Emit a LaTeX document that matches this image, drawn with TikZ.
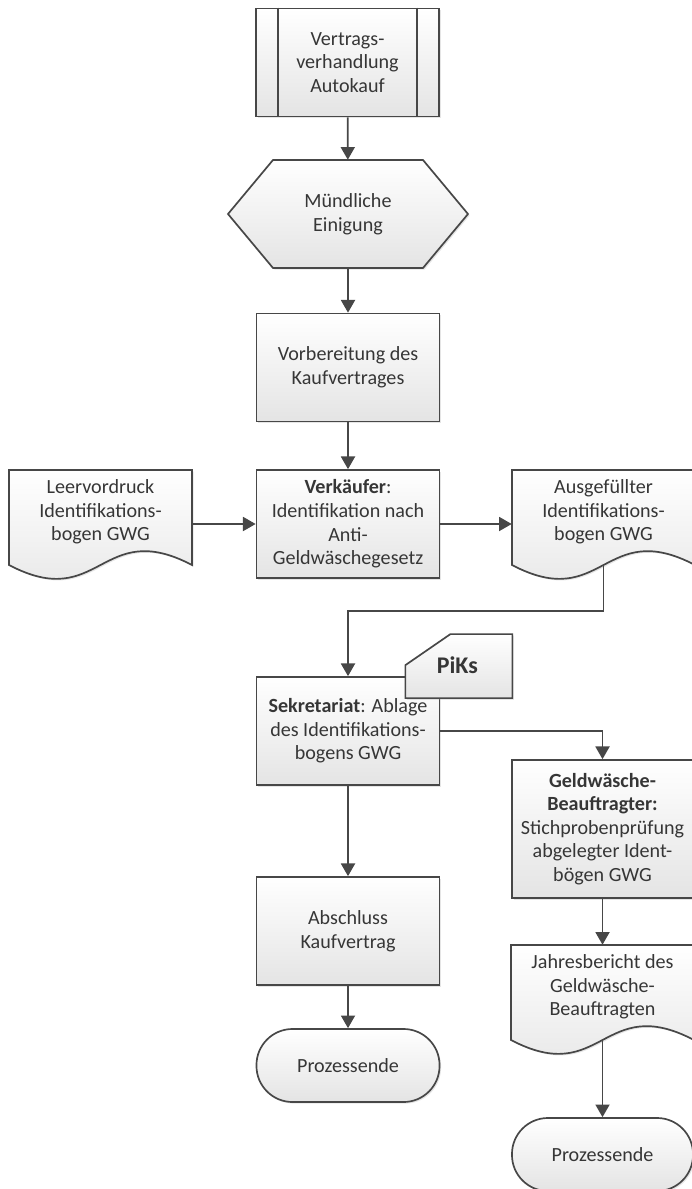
\documentclass[tikz,border=0pt]{standalone}
\usepackage{fontspec}
\setmainfont{Carlito}
\usetikzlibrary{arrows.meta,shadows}

\definecolor{linec}{HTML}{474747}
\definecolor{textc}{HTML}{363636}
\definecolor{fillc}{HTML}{E4E4E4}

% document symbol: name, centre, text
\newcommand{\docnode}[3]{%
  \coordinate (#1c) at (#2);
  \draw[shp] ([shift={(-91.5,-42)}]#1c) -- ([shift={(91.5,-42)}]#1c)
    -- ([shift={(91.5,53)}]#1c)
    .. controls ([shift={(0,5)}]#1c) and ([shift={(0,101)}]#1c) .. ([shift={(-91.5,53)}]#1c)
    -- cycle;
  \node[minimum width=4.575cm, minimum height=2.1cm] (#1) at (#1c) {#3};
  \coordinate (#1 wave) at ([shift={(0,53)}]#1c);
}

\begin{document}
\begin{tikzpicture}[
    x=0.025cm, y=-0.025cm,
    every node/.style={font=\fontsize{14.3}{16.8}\selectfont, text=textc, align=center},
    shp/.style={draw=linec, line width=1.2pt, top color=white, bottom color=fillc,
      drop shadow={shadow xshift=0.04cm, shadow yshift=-0.04cm, opacity=0.25, fill=black!40}},
    box/.style={shp, rectangle, minimum width=4.575cm, minimum height=2.7cm, inner sep=2pt},
    term/.style={box, minimum height=1.825cm, rounded corners=0.9cm},
    conn/.style={draw=linec, line width=1.2pt, -{Triangle[width=10pt,length=9pt]}}
  ]
  \useasboundingbox (0,0) rectangle (691,1189);

  % main column
  \node[box] (vert) at (347.5,62.5) {Vertrags-\\verhandlung\\Autokauf};
  \draw[draw=linec, line width=1.2pt] ([xshift=0.575cm]vert.north west) -- ([xshift=0.575cm]vert.south west)
    ([xshift=-0.575cm]vert.north east) -- ([xshift=-0.575cm]vert.south east);

  \coordinate (einigc) at (348,214);
  \draw[shp] ([shift={(-120,0)}]einigc) -- ([shift={(-75,-54)}]einigc) -- ([shift={(75,-54)}]einigc)
    -- ([shift={(120,0)}]einigc) -- ([shift={(75,54)}]einigc) -- ([shift={(-75,54)}]einigc) -- cycle;
  \node[minimum width=6cm, minimum height=2.7cm] (einig) at (einigc) {Mündliche\\Einigung};

  \node[box] (vorb) at (348,367.5) {Vorbereitung des\\Kaufvertrages};
  \node[box] (verk) at (348,524) {\textbf{Verkäufer}:\\Identifikation nach\\Anti-\\Geldwäschegesetz};

  % documents left and right
  \docnode{leer}{100.5,512}{Leervordruck\\Identifikations-\\bogen GWG}
  \docnode{ausg}{603.5,512}{Ausgefüllter\\Identifikations-\\bogen GWG}

  \node[box] (sekr) at (348,731) {\textbf{Sekretariat}: Ablage\\des Identifikations-\\bogens GWG};

  % PiKs tab
  \coordinate (pk) at ([shift={(18.5,-10)}]sekr.north east);
  \draw[shp] ([shift={(-53.5,-1)}]pk) -- ([shift={(-8.5,-32)}]pk) -- ([shift={(53.5,-32)}]pk)
    -- ([shift={(53.5,32)}]pk) -- ([shift={(-53.5,32)}]pk) -- cycle;
  \node[font=\fontsize{17}{20}\selectfont\bfseries] (piks) at ([shift={(-1.5,-1)}]pk) {PiKs};

  \node[box] (absch) at (348,931) {Abschluss\\Kaufvertrag};
  \node[term] (end1) at (348,1065.5) {Prozessende};

  % right column
  \node[box, minimum width=4.525cm, minimum height=3.45cm] (geld) at (602.5,829)
    {\textbf{Geldwäsche-}\\\textbf{Beauftragter:}\\Stichprobenprüfung\\abgelegter Ident-\\bögen GWG};
  \docnode{jahr}{602.5,987}{Jahresbericht des\\Geldwäsche-\\Beauftragten}
  \node[term, minimum width=4.525cm] (end2) at (602.5,1154.5) {Prozessende};

  % connectors
  \draw[conn] (vert) -- (einig);
  \draw[conn] (einig) -- (vorb);
  \draw[conn] (vorb) -- (verk);
  \draw[conn] (leer.east |- verk.west) -- (verk.west);
  \draw[conn] (verk.east) -- (ausg.west |- verk.east);
  \draw[conn] (ausg wave) -- ++(0,46) -| (sekr.north);
  \draw[conn] (sekr.east) -| (geld.north);
  \draw[conn] (sekr) -- (absch);
  \draw[conn] (absch) -- (end1);
  \draw[conn] (geld) -- (jahr.north);
  \draw[conn] (jahr wave) -- (end2.north);

\end{tikzpicture}
\end{document}
